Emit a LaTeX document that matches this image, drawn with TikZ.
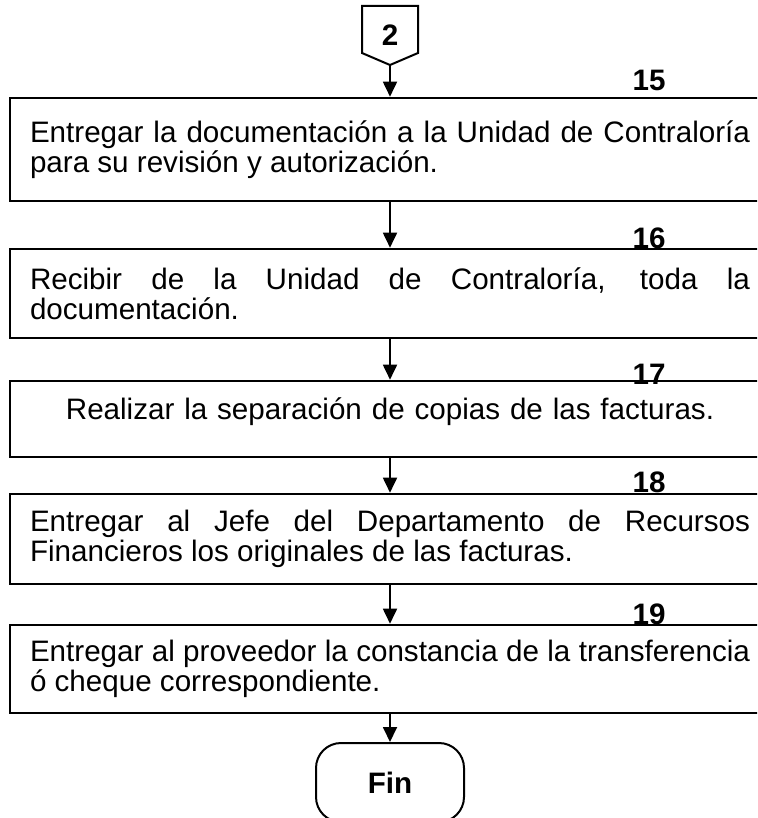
\documentclass[tikz,border=0pt]{standalone}
\usepackage{fontspec}
\setmainfont{Liberation Sans}
\usetikzlibrary{arrows.meta}

\begin{document}
\begin{tikzpicture}[x=1pt,y=-1pt,
    paso/.style={draw,line width=2.6pt,text width=720pt,align=justify,
      inner xsep=20pt,inner ysep=0pt,font=\fontsize{29.6}{30}\selectfont},
    num/.style={anchor=base,font=\fontsize{29.6}{30}\selectfont\bfseries},
    flecha/.style={line width=1.8pt,-{Triangle[length=15pt,width=14pt]}}]
      \useasboundingbox (0,0) rectangle (757,818);
      \clip (0,0) rectangle (757,818);

      % conector de pagina
      \draw[line width=2pt] (362,6) -- (418,6) -- (418,53) -- (390,65) -- (362,53) -- cycle;
      \node[font=\fontsize{29.6}{30}\selectfont\bfseries] (n2) at (390,35) {2};
      \coordinate (c2) at (390,65);

      % pasos
      \node[paso,minimum height=103pt] (b15) at (390,149.5)
        {Entregar la documentación a la Unidad de Contraloría\linebreak para su revisión y autorización.};
      \node[paso,minimum height=89pt] (b16) at (390,293.5)
        {Recibir de la Unidad de Contraloría, toda la\linebreak documentación.};
      \node[paso,minimum height=76pt,align=center] (b17) at (390,419)
        {Realizar la separación de copias de las facturas.\rule[-20pt]{0pt}{20pt}};
      \node[paso,minimum height=90pt] (b18) at (390,539)
        {Entregar al Jefe del Departamento de Recursos\linebreak Financieros los originales de las facturas.};
      \node[paso,minimum height=88pt] (b19) at (390,669)
        {Entregar al proveedor la constancia de la transferencia\linebreak ó cheque correspondiente.};

      \node[draw,line width=2pt,rounded corners=25pt,minimum width=148pt,minimum height=79pt,
        font=\fontsize{29.6}{30}\selectfont\bfseries] (fin) at (390,782.5) {Fin};

      % numeros
      \node[num] (n15) at (649,91) {15};
      \node[num] (n16) at (649,248) {16};
      \node[num] (n17) at (649,384) {17};
      \node[num] (n18) at (649,492) {18};
      \node[num] (n19) at (649,624) {19};

      % flechas
      \draw[flecha] (c2) -- (b15);
      \draw[flecha] (b15) -- (b16);
      \draw[flecha] (b16) -- (b17);
      \draw[flecha] (b17) -- (b18);
      \draw[flecha] (b18) -- (b19);
      \draw[flecha] (b19) -- (fin);
    \end{tikzpicture}
\end{document}
